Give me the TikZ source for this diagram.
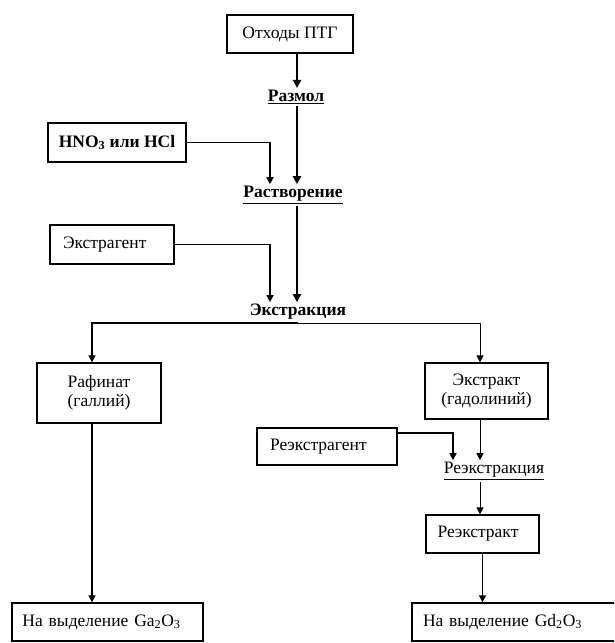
\documentclass[tikz,border=0pt]{standalone}
\usepackage{fontspec}
\setmainfont{Liberation Serif}
\usetikzlibrary{arrows.meta,calc}
\begin{document}
\begin{tikzpicture}[x=1pt,y=-1pt,
  box/.style={draw,line width=1.3pt,inner sep=0pt,font=\fontsize{17.5}{19.5}\selectfont},
  lbl/.style={inner sep=2pt,font=\fontsize{17.5}{19.5}\selectfont},
  arrB/.style={line width=2.2pt,-{Triangle[width=8pt,length=8pt]}},
  arrM/.style={line width=1.5pt,-{Triangle[width=7pt,length=7pt]}},
  arrT/.style={line width=1pt,-{Triangle[width=7pt,length=7pt]}}]
\useasboundingbox (0,0) rectangle (614,643);
\clip (0,0) rectangle (614,643);
\node[box,minimum width=126pt,minimum height=38pt] (otx) at (290,34) {Отходы ПТГ};
\node[lbl] (razmol) at (296,97) {\underline{\textbf{Размол}}};
\node[box,minimum width=138pt,minimum height=39pt] (hno) at (117,142.5) {\textbf{HNO\textsubscript{3} или HCl}};
\node[lbl] (rastv) at (293,195) {\underline{\textbf{Растворение}}};
\node[box,minimum width=124pt,minimum height=39pt,text width=98pt,align=left] (ekstr) at (112,244.5) {Экстрагент};
\node[lbl] (ekstrakcia) at (298,312) {\textbf{Экстракция}};
\coordinate (split) at (298,323);
\node[box,minimum width=124pt,minimum height=60pt,align=center] (raf) at (99,393) {Рафинат\\(галлий)};
\node[box,minimum width=123pt,minimum height=56pt,align=center] (ekt) at (486.5,391) {Экстракт\\(гадолиний)};
\node[box,minimum width=140pt,minimum height=37pt,text width=114pt,align=left] (reag) at (327,446.5) {Реэкстрагент};
\node[lbl] (reekc) at (494,471) {\underline{Реэкстракция}};
\node[box,minimum width=113pt,minimum height=38pt,text width=90pt,align=left] (rekt) at (482.5,534) {Реэкстракт};
\node[box,minimum width=191pt,minimum height=38pt,text width=170pt,align=left] (ga) at (107.5,622) {На выделение Ga\textsubscript{2}O\textsubscript{3}};
\node[box,minimum width=204pt,minimum height=38pt,text width=182pt,align=left] (gd) at (514,622) {На выделение Gd\textsubscript{2}O\textsubscript{3}};
% connectors
\draw[arrB] ([xshift=7pt]otx.south) -- ([xshift=7pt]otx.south |- razmol.north);
\draw[arrB] ([xshift=1pt]razmol.south) -- ([xshift=1pt]razmol.south |- rastv.north);
\draw[arrM] (hno.east) -| ([xshift=-23pt]rastv.north);
\draw[arrB] ([xshift=4pt]rastv.south) -- ([xshift=4pt]rastv.south |- ekstrakcia.north);
\draw[arrM] (ekstr.east) -| ([xshift=-28pt]ekstrakcia.north);
\draw[arrM] (split) -| ([xshift=-7pt]raf.north);
\draw[arrT] (split) -| ([xshift=-6.5pt]ekt.north);
\draw[arrM] ([xshift=-7pt]raf.south) -- ([xshift=-7pt]raf.south |- ga.north);
\draw[arrT] ([xshift=-6.5pt]ekt.south) -- ([xshift=-6.5pt]ekt.south |- reekc.north);
\draw[arrM] ([yshift=13.5pt]reag.east) -| ([xshift=-41pt]reekc.north);
\draw[arrT] ([xshift=-14pt]reekc.south) -- ([xshift=-14pt]reekc.south |- rekt.north);
\draw[arrT] (rekt.south) -- (rekt.south |- gd.north);
\end{tikzpicture}
\end{document}
